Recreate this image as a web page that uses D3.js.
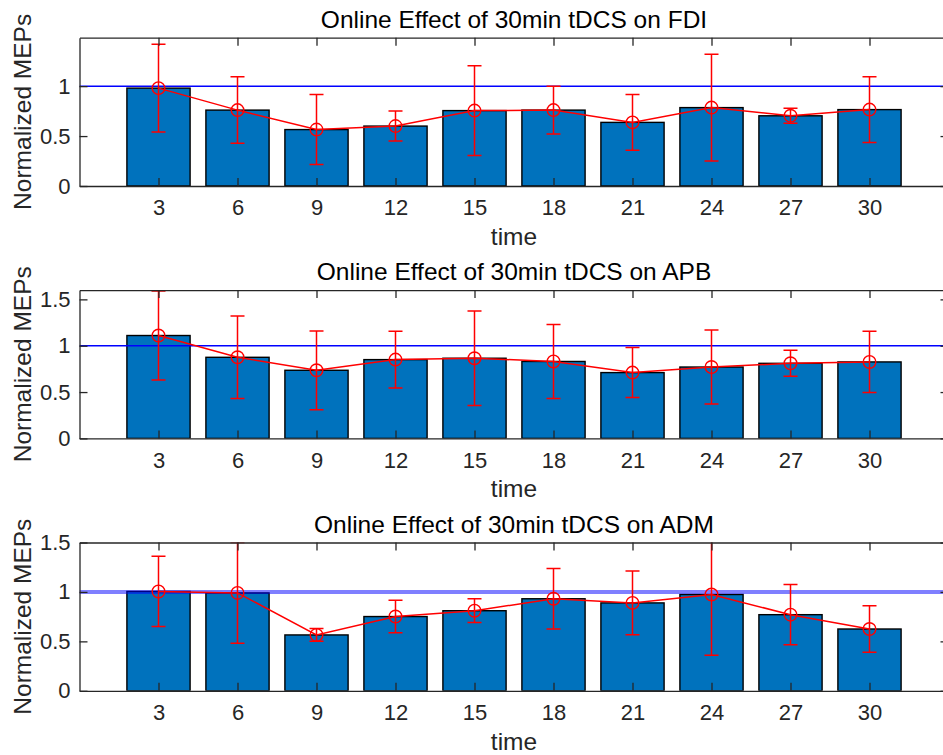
<!DOCTYPE html>
<html>
<head>
<meta charset="utf-8">
<script src="https://cdn.jsdelivr.net/npm/d3@7"></script>
<style>
  body { margin: 0; background: #fff; }
  svg { display: block; font-family: "Liberation Sans", Arial, sans-serif; }
</style>
</head>
<body>
<div id="display"></div>
<script>
// data
const times = [3, 6, 9, 12, 15, 18, 21, 24, 27, 30]
const muscles = ["FDI", "APB", "ADM"]

const fdiMean = [0.98, 0.76, 0.565, 0.60, 0.755, 0.76, 0.637, 0.785, 0.703, 0.765]
const fdiErr  = [0.44, 0.333, 0.35, 0.15, 0.45, 0.24, 0.28, 0.535, 0.075, 0.33]

const apbMean = [1.11, 0.875, 0.735, 0.85, 0.865, 0.83, 0.71, 0.77, 0.81, 0.825]
const apbErr  = [0.48, 0.445, 0.425, 0.305, 0.51, 0.40, 0.27, 0.40, 0.14, 0.33]

const admMean = [1.005, 0.99, 0.565, 0.751, 0.81, 0.931, 0.889, 0.974, 0.77, 0.625]
const admErr  = [0.355, 0.51, 0.065, 0.165, 0.12, 0.305, 0.323, 0.614, 0.305, 0.235]

const yMax = [1.485, 1.6, 1.5]
const yTicks = [[0, 0.5, 1], [0, 0.5, 1, 1.5], [0, 0.5, 1, 1.5]]
const refLevel = 1

const means = [fdiMean, apbMean, admMean]
const errs = [fdiErr, apbErr, admErr]

const width = 943, height = 755
const left = 79.5, right = 948.5
const plotH = 148.3
const bottoms = [186, 438.4, 690.8]

const svg = d3.select('#display').append('svg')
    .attr('width', width)
    .attr('height', height)

const xScale = d3.scaleLinear()
    .domain([0, 33])
    .range([left, right])

const textColor = '#262626'

muscles.forEach((m, i) => {
    const bottom = bottoms[i], top = bottom - plotH
    const yScale = d3.scaleLinear()
        .domain([0, yMax[i]])
        .range([bottom, top])

    const rows = times.map((t, j) => ({t: t, mean: means[i][j], err: errs[i][j]}))

    const g = svg.append('g')

    g.append('clipPath').attr('id', 'clip' + i)
        .append('rect')
        .attr('x', left).attr('y', top)
        .attr('width', right - left).attr('height', plotH)

    const plot = g.append('g').attr('clip-path', 'url(#clip' + i + ')')

    // bars, width 0.8 of spacing
    plot.selectAll('.bar').data(rows)
        .enter()
        .append('rect')
            .attr('x', d => xScale(d.t - 1.2))
            .attr('y', d => yScale(d.mean))
            .attr('width', d => xScale(d.t + 1.2) - xScale(d.t - 1.2))
            .attr('height', d => yScale(0) - yScale(d.mean))
            .attr('fill', '#0072BD')
            .attr('stroke', '#000')
            .attr('stroke-width', 1.4)

    // reference line at 1
    plot.append('line')
        .attr('x1', xScale(0)).attr('x2', xScale(33))
        .attr('y1', yScale(refLevel)).attr('y2', yScale(refLevel))
        .attr('stroke', '#0000ff')
        .attr('stroke-width', i == 2 ? 4 : 1.5)
        .attr('stroke-opacity', i == 2 ? 0.5 : 1)

    // mean line
    const line = d3.line()
        .x(d => xScale(d.t))
        .y(d => yScale(d.mean))
    plot.append('path')
        .datum(rows)
        .attr('d', line)
        .attr('fill', 'none')
        .attr('stroke', '#ff0000')
        .attr('stroke-width', 1.5)

    // error bars
    const eb = plot.selectAll('.eb').data(rows).enter().append('g')
    eb.append('line')
        .attr('x1', d => xScale(d.t)).attr('x2', d => xScale(d.t))
        .attr('y1', d => yScale(d.mean - d.err)).attr('y2', d => yScale(d.mean + d.err))
    eb.append('line')
        .attr('x1', d => xScale(d.t) - 7).attr('x2', d => xScale(d.t) + 7)
        .attr('y1', d => yScale(d.mean + d.err)).attr('y2', d => yScale(d.mean + d.err))
    eb.append('line')
        .attr('x1', d => xScale(d.t) - 7).attr('x2', d => xScale(d.t) + 7)
        .attr('y1', d => yScale(d.mean - d.err)).attr('y2', d => yScale(d.mean - d.err))
    eb.selectAll('line')
        .attr('stroke', '#ff0000')
        .attr('stroke-width', 1.5)
    eb.append('circle')
        .attr('cx', d => xScale(d.t))
        .attr('cy', d => yScale(d.mean))
        .attr('r', 6.3)
        .attr('fill', 'none')
        .attr('stroke', '#ff0000')
        .attr('stroke-width', 1.4)

    // axes on top of the data
    const bottomAxis = g.append('g')
        .attr('transform', 'translate(0,' + bottom + ')')
        .call(d3.axisBottom(xScale).tickValues(times).tickSizeInner(-8).tickSizeOuter(0).tickPadding(13.5))
    g.append('g')
        .attr('transform', 'translate(0,' + top + ')')
        .call(d3.axisTop(xScale).tickValues(times).tickSizeInner(-8).tickSizeOuter(0).tickFormat(''))
    const leftAxis = g.append('g')
        .attr('transform', 'translate(' + left + ',0)')
        .call(d3.axisLeft(yScale).tickValues(yTicks[i]).tickSizeInner(-8).tickSizeOuter(0).tickPadding(9)
            .tickFormat(d3.format('')))
    g.append('g')
        .attr('transform', 'translate(' + right + ',0)')
        .call(d3.axisRight(yScale).tickValues(yTicks[i]).tickSizeInner(-8).tickSizeOuter(0).tickFormat(''))

    g.selectAll('.domain, .tick line')
        .attr('stroke', textColor)
        .attr('stroke-width', 1.3)
    g.selectAll('.tick text')
        .attr('fill', textColor)
        .style('font-size', '22px')

    g.append('text')
        .attr('x', (left + right) / 2)
        .attr('y', top - 10)
        .attr('text-anchor', 'middle')
        .attr('fill', '#000')
        .style('font-size', '24.5px')
        .text('Online Effect of 30min tDCS on ' + m)

    g.append('text')
        .attr('x', (left + right) / 2)
        .attr('y', bottom + 59)
        .attr('text-anchor', 'middle')
        .attr('fill', textColor)
        .style('font-size', '24.5px')
        .text('time')

    g.append('text')
        .attr('transform', 'translate(31,' + (top + bottom) / 2 + ') rotate(-90)')
        .attr('text-anchor', 'middle')
        .attr('fill', textColor)
        .style('font-size', '24.5px')
        .text('Normalized MEPs')
})
</script>
</body>
</html>
